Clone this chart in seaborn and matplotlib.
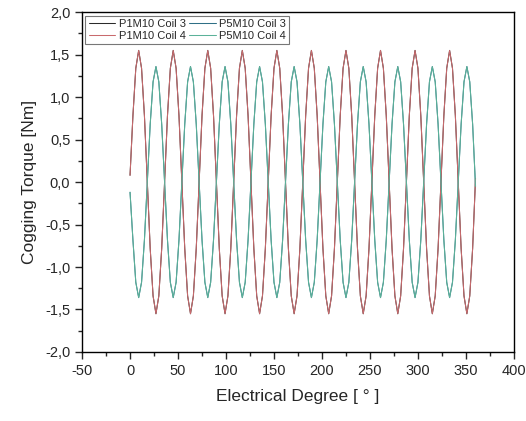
import numpy as np
import pandas as pd
import seaborn as sns
import matplotlib.pyplot as plt
from matplotlib.ticker import MultipleLocator, FuncFormatter

degrees = np.arange(0, 361, 3)

p1m10 = [0.08, 0.78, 1.34, 1.55, 1.34, 0.78, 0.00, -0.78, -1.34, -1.55, -1.34, -0.78,
         0.00, 0.78, 1.34, 1.55, 1.34, 0.78, 0.00, -0.78, -1.34, -1.55, -1.34, -0.78,
         0.00, 0.78, 1.34, 1.55, 1.34, 0.78, 0.00, -0.78, -1.34, -1.55, -1.34, -0.78,
         0.00, 0.78, 1.34, 1.55, 1.34, 0.78, 0.00, -0.78, -1.34, -1.55, -1.34, -0.78,
         0.00, 0.78, 1.34, 1.55, 1.34, 0.78, 0.00, -0.78, -1.34, -1.55, -1.34, -0.78,
         0.00, 0.78, 1.34, 1.55, 1.34, 0.78, 0.00, -0.78, -1.34, -1.55, -1.34, -0.78,
         0.00, 0.78, 1.34, 1.55, 1.34, 0.78, 0.00, -0.78, -1.34, -1.55, -1.34, -0.78,
         0.00, 0.78, 1.34, 1.55, 1.34, 0.78, 0.00, -0.78, -1.34, -1.55, -1.34, -0.78,
         0.00, 0.78, 1.34, 1.55, 1.34, 0.78, 0.00, -0.78, -1.34, -1.55, -1.34, -0.78,
         0.00, 0.78, 1.34, 1.55, 1.34, 0.78, 0.00, -0.78, -1.34, -1.55, -1.34, -0.78,
         0.04]

p5m10 = [-0.12, -0.68, -1.18, -1.36, -1.18, -0.68, 0.00, 0.68, 1.18, 1.36, 1.18, 0.68,
         0.00, -0.68, -1.18, -1.36, -1.18, -0.68, 0.00, 0.68, 1.18, 1.36, 1.18, 0.68,
         0.00, -0.68, -1.18, -1.36, -1.18, -0.68, 0.00, 0.68, 1.18, 1.36, 1.18, 0.68,
         0.00, -0.68, -1.18, -1.36, -1.18, -0.68, 0.00, 0.68, 1.18, 1.36, 1.18, 0.68,
         0.00, -0.68, -1.18, -1.36, -1.18, -0.68, 0.00, 0.68, 1.18, 1.36, 1.18, 0.68,
         0.00, -0.68, -1.18, -1.36, -1.18, -0.68, 0.00, 0.68, 1.18, 1.36, 1.18, 0.68,
         0.00, -0.68, -1.18, -1.36, -1.18, -0.68, 0.00, 0.68, 1.18, 1.36, 1.18, 0.68,
         0.00, -0.68, -1.18, -1.36, -1.18, -0.68, 0.00, 0.68, 1.18, 1.36, 1.18, 0.68,
         0.00, -0.68, -1.18, -1.36, -1.18, -0.68, 0.00, 0.68, 1.18, 1.36, 1.18, 0.68,
         0.00, -0.68, -1.18, -1.36, -1.18, -0.68, 0.00, 0.68, 1.18, 1.36, 1.18, 0.68,
         -0.05]

# coil 3 curves lie under the coil 4 curves
series = {
    "P1M10 Coil 3": p1m10,
    "P5M10 Coil 3": p5m10,
    "P1M10 Coil 4": p1m10,
    "P5M10 Coil 4": p5m10,
}
colors = {
    "P1M10 Coil 3": "#2b2b2b",
    "P5M10 Coil 3": "#2f6f86",
    "P1M10 Coil 4": "#c96a6d",
    "P5M10 Coil 4": "#5cb299",
}

df = pd.concat([pd.DataFrame({"deg": degrees, "torque": v, "curve": k})
                for k, v in series.items()], ignore_index=True)

sns.set_style("ticks")
plt.rcParams["font.family"] = ["Liberation Sans", "DejaVu Sans"]
plt.rcParams["axes.unicode_minus"] = False

fig = plt.figure(figsize=(5.26, 4.21), dpi=100)
ax = fig.add_axes([0.156, 0.164, 0.821, 0.807])

sns.lineplot(data=df, x="deg", y="torque", hue="curve", hue_order=list(series),
             palette=colors, linewidth=0.75, ax=ax)

ax.set_xlim(-50, 400)
ax.set_ylim(-2, 2)
ax.xaxis.set_major_locator(MultipleLocator(50))
ax.xaxis.set_minor_locator(MultipleLocator(25))
ax.yaxis.set_major_locator(MultipleLocator(0.5))
ax.yaxis.set_minor_locator(MultipleLocator(0.25))
ax.yaxis.set_major_formatter(FuncFormatter(lambda v, p: f"{v:.1f}".replace(".", ",")))
ax.tick_params(which="major", direction="out", length=5, width=1, labelsize=10.5)
ax.tick_params(which="minor", direction="out", length=3, width=1)
for s in ax.spines.values():
    s.set_visible(True)
    s.set_linewidth(1)
    s.set_color("black")

ax.set_xlabel("Electrical Degree [ ° ]", fontsize=12.5, labelpad=8)
ax.set_ylabel("Cogging Torque [Nm]", fontsize=12.5, labelpad=6)

handles, labels = ax.get_legend_handles_labels()
order = ["P1M10 Coil 3", "P1M10 Coil 4", "P5M10 Coil 3", "P5M10 Coil 4"]
h = [handles[labels.index(o)] for o in order]
leg = ax.legend(h, order, ncol=2, loc="upper left", bbox_to_anchor=(0.0, 1.0),
                fontsize=8, frameon=True, fancybox=False, edgecolor="#555555",
                handlelength=2.4, handletextpad=0.3, columnspacing=0.3,
                labelspacing=0.15, borderpad=0.3, borderaxespad=0.3)
leg.get_frame().set_linewidth(0.8)

fig.savefig("out.png", dpi=100)
